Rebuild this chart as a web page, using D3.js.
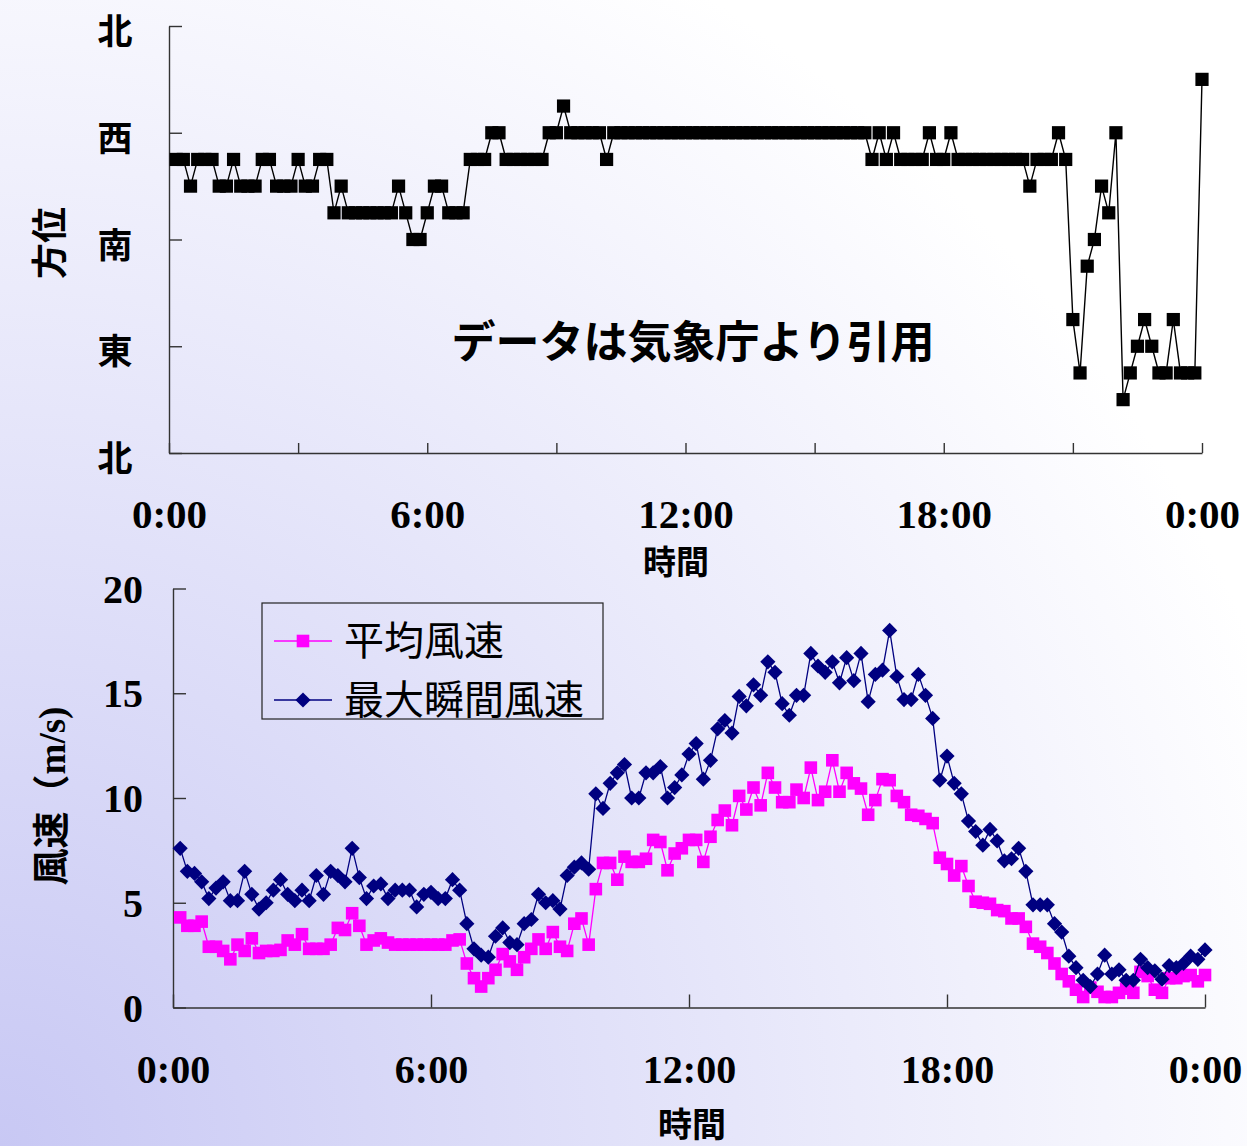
<!DOCTYPE html>
<html><head><meta charset="utf-8">
<script src="https://cdn.jsdelivr.net/npm/d3@7"></script>
<style>body{margin:0;background:#fff}svg{display:block}</style>
</head><body>
<svg id="c" width="1247" height="1146"></svg>
<script>
// ---------- data ----------
const timeTickValues = [0, 3, 6, 9, 12, 15, 18, 21, 24];
const timeLabels = {0: "0:00", 6: "6:00", 12: "12:00", 18: "18:00", 24: "0:00"};
const dirTickValues = [0, 90, 180, 270, 360];
const dirTickLabels = {0: "北", 90: "東", 180: "南", 270: "西", 360: "北"};
const compass = {N:0, NNE:22.5, NE:45, ENE:67.5, E:90, ESE:112.5, SE:135, SSE:157.5,
  S:180, SSW:202.5, SW:225, WSW:247.5, W:270, WNW:292.5, NW:315, NNW:337.5};
const speedTicks = [0, 5, 10, 15, 20];

// 10-minute wind direction, 0:10 .. 24:00
const windDir = [
 "WSW","WSW","SW","WSW","WSW","WSW","SW","SW","WSW","SW",
 "SW","SW","WSW","WSW","SW","SW","SW","WSW","SW","SW",
 "WSW","WSW","SSW","SW","SSW","SSW","SSW","SSW","SSW","SSW",
 "SSW","SW","SSW","S","S","SSW","SW","SW","SSW","SSW",
 "SSW","WSW","WSW","WSW","W","W","WSW","WSW","WSW","WSW",
 "WSW","WSW","W","W","WNW","W","W","W","W","W",
 "WSW","W","W","W","W","W","W","W","W","W",
 "W","W","W","W","W","W","W","W","W","W",
 "W","W","W","W","W","W","W","W","W","W",
 "W","W","W","W","W","W","W","WSW","W","WSW",
 "W","WSW","WSW","WSW","WSW","W","WSW","WSW","W","WSW",
 "WSW","WSW","WSW","WSW","WSW","WSW","WSW","WSW","WSW","SW",
 "WSW","WSW","WSW","W","WSW","ESE","ENE","SSE","S","SW",
 "SSW","W","NE","ENE","E","ESE","E","ENE","ENE","ESE",
 "ENE","ENE","ENE","NW"
];

// 10-minute mean wind speed (m/s)
const avgSpeed = [
 4.3,3.9,3.9,4.1,2.9,2.9,2.7,2.3,3.0,2.7,
 3.3,2.6,2.7,2.7,2.75,3.2,3.0,3.5,2.8,2.8,
 2.8,3.0,3.8,3.7,4.5,3.9,3.0,3.2,3.3,3.1,
 3.0,3.0,3.0,3.0,3.0,3.0,3.0,3.0,3.2,3.25,
 2.1,1.4,1.0,1.4,1.8,2.55,2.2,1.8,2.4,2.8,
 3.25,2.8,3.6,2.9,2.7,4.0,4.25,3.0,5.65,6.9,
 6.9,6.1,7.2,6.95,6.95,7.1,8.0,7.9,6.55,7.35,
 7.6,8.0,8.0,6.95,8.15,8.95,9.4,8.7,10.1,9.45,
 10.5,9.65,11.2,10.5,9.8,9.8,10.4,10.0,11.45,9.9,
 10.3,11.8,10.3,11.2,10.7,10.45,9.2,9.9,10.9,10.85,
 10.1,9.8,9.2,9.15,9.0,8.8,7.15,6.85,6.3,6.75,
 5.8,5.05,5.0,4.95,4.65,4.6,4.25,4.25,3.85,3.05,
 2.9,2.6,2.1,1.6,1.25,0.85,0.5,0.95,0.75,0.5,
 0.5,0.7,0.9,0.7,1.7,1.5,0.85,0.7,1.4,1.4,
 1.5,1.55,1.25,1.55
];

// 10-minute maximum gust (m/s)
const maxGust = [
 7.6,6.5,6.4,6.0,5.2,5.7,6.0,5.1,5.1,6.5,
 5.4,4.7,5.0,5.6,6.1,5.4,5.1,5.6,5.1,6.3,
 5.4,6.5,6.3,6.0,7.6,6.2,5.2,5.8,5.9,5.2,
 5.6,5.6,5.6,4.8,5.4,5.5,5.2,5.2,6.1,5.6,
 4.0,2.8,2.5,2.4,3.4,3.8,3.1,3.0,4.0,4.2,
 5.4,5.0,5.1,4.7,6.3,6.7,6.9,6.6,10.2,9.5,
 10.7,11.2,11.6,10.0,10.0,11.2,11.2,11.5,10.0,10.5,
 11.1,12.1,12.6,10.9,11.8,13.3,13.7,13.1,14.85,14.4,
 15.4,14.9,16.5,16.0,14.5,13.95,14.9,14.9,16.9,16.3,
 16.0,16.5,15.5,16.7,15.6,16.9,14.6,15.9,16.1,18.0,
 15.8,14.7,14.7,15.9,14.9,13.8,10.85,12.0,10.7,10.2,
 8.9,8.4,7.75,8.5,7.95,7.0,7.1,7.6,6.5,4.9,
 4.9,4.9,4.0,3.6,2.45,1.9,1.3,1.0,1.6,2.5,
 1.6,1.8,1.3,1.3,2.3,1.9,1.75,1.35,2.0,1.9,
 2.1,2.45,2.3,2.75
];

// ---------- drawing ----------
const svg = d3.select("#c");
const W = 1247, H = 1146;
const defs = svg.append("defs");
const grad = defs.append("radialGradient").attr("id","bg")
  .attr("gradientUnits","userSpaceOnUse").attr("cx",0).attr("cy",H).attr("r",1350);
grad.append("stop").attr("offset","0").attr("stop-color","#c8c8f4");
grad.append("stop").attr("offset","1").attr("stop-color","#ffffff");
svg.append("rect").attr("width",W).attr("height",H).attr("fill","url(#bg)");

const tickFont = "'Liberation Serif','Times New Roman',serif";
const cjk = "'Noto Sans CJK JP',sans-serif";
const axisColor = "#333";
const tOf = i => (i + 1) / 6;

function styleAxis(g){
  g.selectAll("path.domain").attr("stroke",axisColor).attr("stroke-width",1.4);
  g.selectAll(".tick line").attr("stroke",axisColor).attr("stroke-width",1.4);
}

// ===== Top chart: wind direction =====
const x1 = d3.scaleLinear().domain([0,24]).range([169,1202]);
const y1 = d3.scaleLinear().domain([0,360]).range([453,26]);

const gx1 = svg.append("g").attr("transform","translate(0,453)")
  .call(d3.axisBottom(x1).tickValues(timeTickValues).tickSizeInner(-10).tickSizeOuter(0)
    .tickFormat(d => timeLabels[d] || ""));
styleAxis(gx1);
gx1.selectAll(".tick text").attr("y",0).attr("dy",0).attr("transform","translate(0,75)")
  .attr("font-family",tickFont).attr("font-weight","bold").attr("font-size",41).attr("fill","#000");

const gy1 = svg.append("g").attr("transform","translate(169,0)")
  .call(d3.axisLeft(y1).tickValues(dirTickValues).tickSizeInner(-13).tickSizeOuter(0)
    .tickFormat(d => dirTickLabels[d]));
styleAxis(gy1);
gy1.selectAll(".tick text").attr("x",-54).attr("dy","0.5em").attr("text-anchor","middle")
  .attr("font-family",cjk).attr("font-weight","bold").attr("font-size",35).attr("fill","#000");

const dirPts = windDir.map((d,i) => ({t: tOf(i), v: compass[d]}));
svg.append("path").datum(dirPts)
  .attr("d", d3.line().x(d => x1(d.t)).y(d => y1(d.v)))
  .attr("fill","none").attr("stroke","#000").attr("stroke-width",1.4);
svg.append("g").selectAll("rect").data(dirPts).join("rect")
  .attr("x", d => x1(d.t) - 6.6).attr("y", d => y1(d.v) - 6.6)
  .attr("width",13.2).attr("height",13.2).attr("fill","#000");

svg.append("text").attr("transform","translate(50,243) rotate(-90)")
  .attr("text-anchor","middle").attr("dy","0.36em")
  .attr("font-family",cjk).attr("font-weight","bold").attr("font-size",36).text("方位");

svg.append("text").attr("x",693).attr("y",342).attr("dy","0.36em").attr("text-anchor","middle")
  .attr("font-family",cjk).attr("font-weight","bold").attr("font-size",44).text("データは気象庁より引用");

svg.append("text").attr("x",676).attr("y",562).attr("dy","0.36em").attr("text-anchor","middle")
  .attr("font-family",cjk).attr("font-weight","bold").attr("font-size",33).text("時間");

// ===== Bottom chart: wind speed =====
const x2 = d3.scaleLinear().domain([0,24]).range([173,1205]);
const y2 = d3.scaleLinear().domain([0,20]).range([1007.5,588.5]);

const gx2 = svg.append("g").attr("transform","translate(0,1007.5)")
  .call(d3.axisBottom(x2).tickValues([0,6,12,18,24]).tickSizeInner(-13).tickSizeOuter(0)
    .tickFormat(d => timeLabels[d]));
styleAxis(gx2);
gx2.selectAll(".tick text").attr("y",0).attr("dy",0).attr("transform","translate(0,75)")
  .attr("font-family",tickFont).attr("font-weight","bold").attr("font-size",40).attr("fill","#000");

const gy2 = svg.append("g").attr("transform","translate(173,0)")
  .call(d3.axisLeft(y2).tickValues(speedTicks).tickSizeInner(-13).tickSizeOuter(0));
styleAxis(gy2);
gy2.selectAll(".tick text").attr("x",-30).attr("dy","0.34em").attr("text-anchor","end")
  .attr("font-family",tickFont).attr("font-weight","bold").attr("font-size",40).attr("fill","#000");

svg.append("text").attr("x",692).attr("y",1125).attr("dy","0.36em").attr("text-anchor","middle")
  .attr("font-family",cjk).attr("font-weight","bold").attr("font-size",34).text("時間");

svg.append("text").attr("transform","translate(52,796) rotate(-90)")
  .attr("text-anchor","middle").attr("dy","0.36em")
  .attr("font-family","'Liberation Serif','Noto Sans CJK JP',serif").attr("font-weight","bold")
  .attr("font-size",37).text("風速（m/s)");

const avgPts = avgSpeed.map((v,i) => ({t: tOf(i), v}));
const maxPts = maxGust.map((v,i) => ({t: tOf(i), v}));
const line2 = d3.line().x(d => x2(d.t)).y(d => y2(d.v));

const avgColor = "#ff00ff", maxColor = "#000080";
svg.append("path").datum(avgPts).attr("d",line2).attr("fill","none")
  .attr("stroke",avgColor).attr("stroke-width",1.3);
svg.append("g").selectAll("rect").data(avgPts).join("rect")
  .attr("x", d => x2(d.t) - 6.3).attr("y", d => y2(d.v) - 6.3)
  .attr("width",12.6).attr("height",12.6).attr("fill",avgColor);

svg.append("path").datum(maxPts).attr("d",line2).attr("fill","none")
  .attr("stroke",maxColor).attr("stroke-width",1.3);
const diamond = r => `M0,${-r}L${r},0L0,${r}L${-r},0Z`;
svg.append("g").selectAll("path").data(maxPts).join("path")
  .attr("transform", d => `translate(${x2(d.t)},${y2(d.v)})`)
  .attr("d", diamond(7.6)).attr("fill",maxColor);

// legend
const lg = svg.append("g");
lg.append("rect").attr("x",262).attr("y",603).attr("width",341).attr("height",116)
  .attr("fill","none").attr("stroke","#222").attr("stroke-width",1.2);
const legendItems = [
  {label:"平均風速", color:avgColor, kind:"square", y:641},
  {label:"最大瞬間風速", color:maxColor, kind:"diamond", y:700}
];
legendItems.forEach(it => {
  lg.append("line").attr("x1",274).attr("x2",332).attr("y1",it.y).attr("y2",it.y)
    .attr("stroke",it.color).attr("stroke-width",1.3);
  if (it.kind === "square") {
    lg.append("rect").attr("x",303-6.3).attr("y",it.y-6.3).attr("width",12.6).attr("height",12.6).attr("fill",it.color);
  } else {
    lg.append("path").attr("transform",`translate(303,${it.y})`).attr("d",diamond(7.6)).attr("fill",it.color);
  }
  lg.append("text").attr("x",344).attr("y",it.y).attr("dy","0.36em")
    .attr("font-family",cjk).attr("font-size",40).attr("fill","#000").text(it.label);
});
</script>
</body></html>
